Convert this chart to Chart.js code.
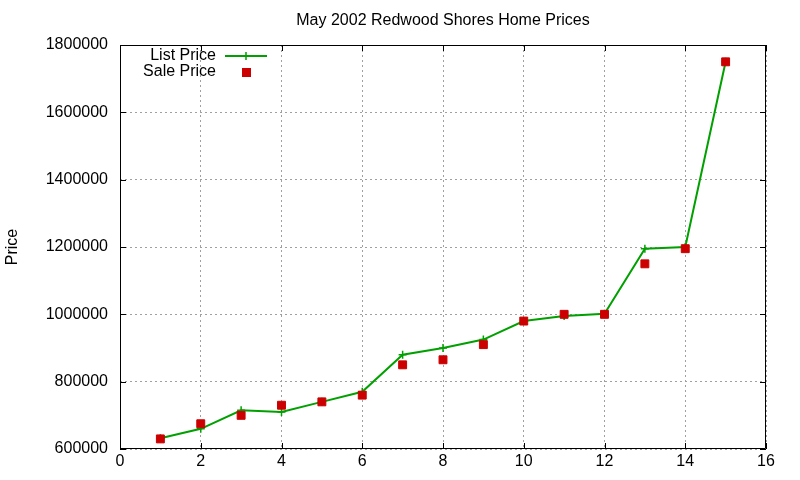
<!DOCTYPE html>
<html>
<head>
<meta charset="utf-8">
<script src="https://cdn.jsdelivr.net/npm/chart.js@4"></script>
<style>
html,body{margin:0;padding:0;background:#fff;}
#wrap{width:800px;height:480px;}
</style>
</head>
<body>
<div id="wrap"><canvas id="c" width="800" height="480"></canvas></div>
<script>
const houses = [1,2,3,4,5,6,7,8,9,10,11,12,13,14,15];
const listPrice = [632000,660000,715000,710000,740000,770000,880000,900000,925000,980000,995000,1002000,1195000,1200000,1750000];
const salePrice = [630000,675000,700000,730000,740000,760000,850000,865000,910000,980000,1000000,1000000,1150000,1195000,1750000];
const titleText = 'May 2002 Redwood Shores Home Prices';
const yLabel = 'Price';
const seriesNames = ['List Price','Sale Price'];

const FONT = '"Liberation Sans", Arial, sans-serif';
const GREEN = '#00a000';
const RED = '#cc0000';

const framePlugin = {
  id: 'frame',
  afterDraw(chart) {
    const ctx = chart.ctx;
    const a = chart.chartArea;
    const xs = chart.scales.x, ys = chart.scales.y;
    ctx.save();
    ctx.strokeStyle = '#000';
    ctx.lineWidth = 1;
    ctx.beginPath();
    ctx.rect(a.left + 0.5, a.top + 0.5, a.right - a.left - 1, a.bottom - a.top - 1);
    ctx.stroke();
    const tl = 6;
    ctx.beginPath();
    xs.ticks.forEach(t => {
      const px = Math.round(xs.getPixelForValue(t.value)) + 0.5;
      ctx.moveTo(px, a.bottom); ctx.lineTo(px, a.bottom - tl);
      ctx.moveTo(px, a.top); ctx.lineTo(px, a.top + tl);
    });
    ys.ticks.forEach(t => {
      const py = Math.round(ys.getPixelForValue(t.value)) + 0.5;
      ctx.moveTo(a.left, py); ctx.lineTo(a.left + tl, py);
      ctx.moveTo(a.right, py); ctx.lineTo(a.right - tl, py);
    });
    ctx.stroke();

    // title
    ctx.fillStyle = '#000';
    ctx.font = '16px ' + FONT;
    ctx.textAlign = 'center';
    ctx.textBaseline = 'middle';
    ctx.fillText(titleText, (a.left + a.right) / 2, 21);

    // y label
    ctx.save();
    ctx.translate(13, 247);
    ctx.rotate(-Math.PI / 2);
    ctx.font = '16px ' + FONT;
    ctx.fillText(yLabel, 0, 0);
    ctx.restore();

    // legend
    ctx.font = '16px ' + FONT;
    ctx.textAlign = 'right';
    ctx.fillStyle = '#000';
    ctx.fillText(seriesNames[0], 216, 56);
    ctx.fillText(seriesNames[1], 216, 72);
    ctx.strokeStyle = GREEN;
    ctx.lineWidth = 2;
    ctx.beginPath();
    ctx.moveTo(225, 56); ctx.lineTo(267, 56);
    ctx.stroke();
    ctx.lineWidth = 1.5;
    ctx.beginPath();
    ctx.moveTo(246, 52); ctx.lineTo(246, 60);
    ctx.moveTo(242, 56); ctx.lineTo(250, 56);
    ctx.stroke();
    ctx.fillStyle = RED;
    ctx.fillRect(242, 68, 9, 9);
    ctx.restore();
  }
};

new Chart(document.getElementById('c'), {
  type: 'scatter',
  data: {
    datasets: [
      {
        label: seriesNames[0],
        data: houses.map((h, i) => ({x: h, y: listPrice[i]})),
        showLine: true,
        borderColor: GREEN,
        backgroundColor: GREEN,
        borderWidth: 2,
        tension: 0,
        pointStyle: 'cross',
        pointRadius: 4,
        pointBorderWidth: 1.5,
        pointBorderColor: GREEN,
        order: 2
      },
      {
        label: seriesNames[1],
        data: houses.map((h, i) => ({x: h, y: salePrice[i]})),
        showLine: false,
        pointStyle: 'rect',
        pointRadius: 5.6,
        pointBorderWidth: 1,
        pointBorderColor: RED,
        pointBackgroundColor: RED,
        order: 1
      }
    ]
  },
  options: {
    responsive: false,
    animation: false,
    devicePixelRatio: 1,
    layout: { padding: { left: 0, right: 34, top: 45, bottom: 0 } },
    plugins: {
      legend: { display: false },
      title: { display: false },
      tooltip: { enabled: false }
    },
    scales: {
      x: {
        type: 'linear',
        min: 0, max: 16,
        afterFit(s) { s.height = 31; },
        ticks: { stepSize: 2, color: '#000', font: { family: FONT, size: 16 }, padding: 3, maxRotation: 0,
                 callback: v => String(v) },
        grid: { color: '#a0a0a0', lineWidth: 1, drawTicks: false, tickLength: 0 },
        border: { display: false, dash: [2, 3] }
      },
      y: {
        type: 'linear',
        min: 600000, max: 1800000,
        afterFit(s) { s.width = 120; },
        ticks: { stepSize: 200000, color: '#000', font: { family: FONT, size: 16 }, padding: 12,
                 callback: v => String(v) },
        grid: { color: '#a0a0a0', lineWidth: 1, drawTicks: false, tickLength: 0 },
        border: { display: false, dash: [2, 3] }
      }
    }
  },
  plugins: [framePlugin]
});
</script>
</body>
</html>
